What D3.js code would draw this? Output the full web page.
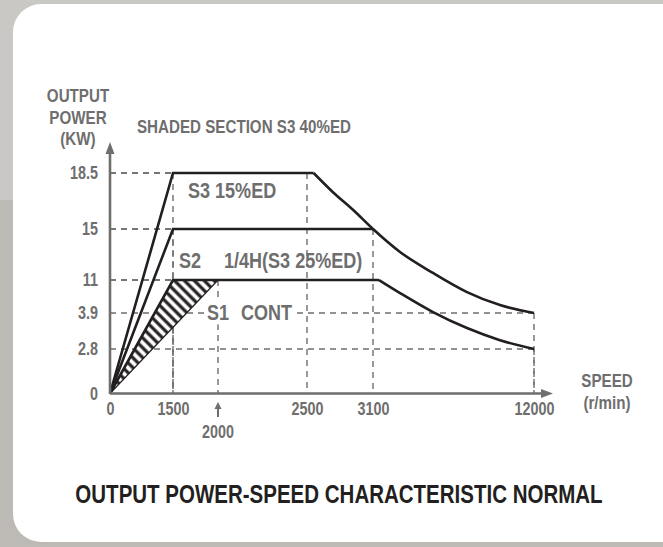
<!DOCTYPE html>
<html>
<head>
<meta charset="utf-8">
<script src="https://cdn.jsdelivr.net/npm/d3@7"></script>
<style>
  body { margin: 0; background: #c9c8c4; }
  svg text { font-family: "Liberation Sans", Arial, sans-serif; font-weight: bold; }
</style>
</head>
<body>
<div id="chart"></div>
<script>
// Data
const speedTicks = [0, 1500, 2500, 3100, 12000];
const speedMarked = 2000;
const powerTicks = [0, 2.8, 3.9, 11, 15, 18.5];

// S3 15%ED envelope (merges with S2 beyond 3100)
const s3Speed = [0, 1500, 2560, 2736, 2918, 3100, 4593, 6417, 8296, 10120, 12000];
const s3Power = [0, 18.5, 18.5, 17.3, 16.2, 15, 13.2, 11.55, 8.4, 5.6, 3.9];
// S2 1/4H
const s2Speed = [0, 1500, 3100];
const s2Power = [0, 15, 15];
// S1 continuous
const s1Speed = [0, 1500, 3430, 4593, 6417, 8296, 10120, 12000];
const s1Power = [0, 11, 11, 8.2, 4.1, 3.44, 3.07, 2.8];
// shaded S3 40%ED
const hatchSpeed = [0, 1500, 2000];
const hatchPower = [0, 11, 11];

// dashed guides: [power, speed]
const guides = [[18.5, 1500], [15, 1500], [11, 1500], [3.9, 12000], [2.8, 12000],
                [18.5, 2500], [15, 3100], [11, 2000]];

const width = 663, height = 547;
const gray = "#6e6e6e", ink = "#231f20";
const narrow = 0.82; // no narrow face installed, squeeze the regular one

const svg = d3.select("#chart").append("svg")
    .attr("width", width)
    .attr("height", height);

// background + card
svg.append("rect").attr("x", 0).attr("y", 200).attr("width", width).attr("height", height - 200).attr("fill", "#bdbab6");
svg.append("rect").attr("x", 13).attr("y", 4).attr("width", 680).attr("height", 538).attr("rx", 28).attr("fill", "#fff");

// axes are not linear, each labelled value gets its own spot
const xScale = d3.scaleLinear()
    .domain([0, 1500, 2000, 2500, 3100, 12000])
    .range([110, 173, 218, 307, 373, 534]);

const yScale = d3.scaleLinear()
    .domain(powerTicks)
    .range([393.5, 349, 313, 280, 229, 173]);

const x0 = xScale(0), y0 = yScale(0);

// dashed guides
svg.append("g").selectAll("path")
    .data(guides)
    .join("path")
    .attr("d", d => {
        const gx = xScale(d[1]), gy = yScale(d[0]);
        return "M" + x0 + "," + gy + "H" + gx + "M" + gx + "," + gy + "V" + y0;
    })
    .attr("fill", "none")
    .attr("stroke", gray)
    .attr("stroke-width", 1.4)
    .attr("stroke-dasharray", "6,5");

// hatched area
const defs = svg.append("defs");
const pat = defs.append("pattern")
    .attr("id", "hatch")
    .attr("patternUnits", "userSpaceOnUse")
    .attr("width", 7).attr("height", 7)
    .attr("patternTransform", "rotate(-45)");
pat.append("rect").attr("width", 7).attr("height", 7).attr("fill", "#fff");
pat.append("line").attr("x1", 2).attr("y1", 0).attr("x2", 2).attr("y2", 7)
    .attr("stroke", ink).attr("stroke-width", 3.2);

const hatchArea = d3.line()
    .x((d, i) => xScale(hatchSpeed[i]))
    .y((d, i) => yScale(hatchPower[i]));

svg.append("path")
    .attr("d", hatchArea(hatchSpeed) + "Z")
    .attr("fill", "url(#hatch)")
    .attr("stroke", ink)
    .attr("stroke-width", 1.2);

// white box behind S1 label on 3.9 guide
const s1Box = svg.append("rect").attr("fill", "#fff");

// curves: straight ramp + flat, then smooth fall-off
function drawCurve(sp, pw, knee) {
    const pts = sp.map((s, i) => [xScale(s), yScale(pw[i])]);
    svg.append("path")
        .attr("d", d3.line()(pts.slice(0, knee + 1)))
        .attr("fill", "none").attr("stroke", ink).attr("stroke-width", 2.6)
        .attr("stroke-linejoin", "miter");
    if (pts.length > knee + 1) {
        svg.append("path")
            .attr("d", d3.line().curve(d3.curveMonotoneX)(pts.slice(knee)))
            .attr("fill", "none").attr("stroke", ink).attr("stroke-width", 2.6);
    }
}
drawCurve(s3Speed, s3Power, 2);
drawCurve(s2Speed, s2Power, 2);
drawCurve(s1Speed, s1Power, 2);

// axes
const xAxis = d3.axisBottom(xScale).tickValues(speedTicks).tickSize(0).tickPadding(9)
    .tickFormat(d3.format("d"));
const yAxis = d3.axisLeft(yScale).tickValues(powerTicks).tickSize(0).tickPadding(12)
    .tickFormat(d => d);

const gx = svg.append("g").attr("transform", "translate(0," + y0 + ")").call(xAxis);
const gy = svg.append("g").attr("transform", "translate(" + x0 + ",0)").call(yAxis);
[gx, gy].forEach(g => {
    g.attr("font-family", null).attr("font-size", 17.5);
    g.select(".domain").remove();
    g.selectAll("text").attr("fill", gray).attr("transform", "scale(" + narrow + ",1)");
});
gy.selectAll("text").attr("x", -12 / narrow);

svg.append("path")
    .attr("d", "M" + x0 + "," + y0 + "H546M" + x0 + "," + y0 + "V150")
    .attr("stroke", gray).attr("stroke-width", 2.6).attr("fill", "none");
svg.append("path")
    .attr("d", "M553," + y0 + "L541," + (y0 - 4.5) + "L541," + (y0 + 4.5) + "Z")
    .attr("fill", gray);
svg.append("path")
    .attr("d", "M" + x0 + ",142L" + (x0 - 4.5) + ",154L" + (x0 + 4.5) + ",154Z")
    .attr("fill", gray);

// labels
function label(txt, x, y, size, anchor, color) {
    return svg.append("text")
        .attr("transform", "translate(" + x + "," + y + ") scale(" + narrow + ",1)")
        .attr("font-size", size)
        .attr("text-anchor", anchor || "start")
        .attr("fill", color || gray)
        .text(txt);
}

// 2000 marker under the axis
const xm = xScale(speedMarked);
svg.append("path").attr("d", "M" + xm + ",407V417").attr("stroke", gray).attr("stroke-width", 2);
svg.append("path").attr("d", "M" + xm + ",402L" + (xm - 3.5) + ",409L" + (xm + 3.5) + ",409Z").attr("fill", gray);
label(speedMarked, xm, 438, 17.5, "middle");

label("OUTPUT", 78, 102, 18.5, "middle");
label("POWER", 78, 124, 18.5, "middle");
label("(KW)", 78, 145, 18.5, "middle");
label("SHADED SECTION S3 40%ED", 137, 133, 18.5);
label("SPEED", 607, 387, 18.5, "middle");
label("(r/min)", 607, 409, 18.5, "middle");

label("S3 15%ED", 188, 198, 22);
label("S2", 179, 268, 22);
label("1/4H(S3 25%ED)", 224, 268, 22);
const t1 = label("S1", 207, 320, 22);
const t2 = label("CONT", 241, 320, 22);
const b1 = t1.node().getBBox(), b2 = t2.node().getBBox();
s1Box.attr("x", 204).attr("y", 320 + b1.y)
    .attr("width", 241 + (b2.x + b2.width) * narrow - 204 + 3).attr("height", b1.height);

label("OUTPUT POWER-SPEED CHARACTERISTIC NORMAL", 339, 503, 25, "middle", ink);
</script>
</body>
</html>
